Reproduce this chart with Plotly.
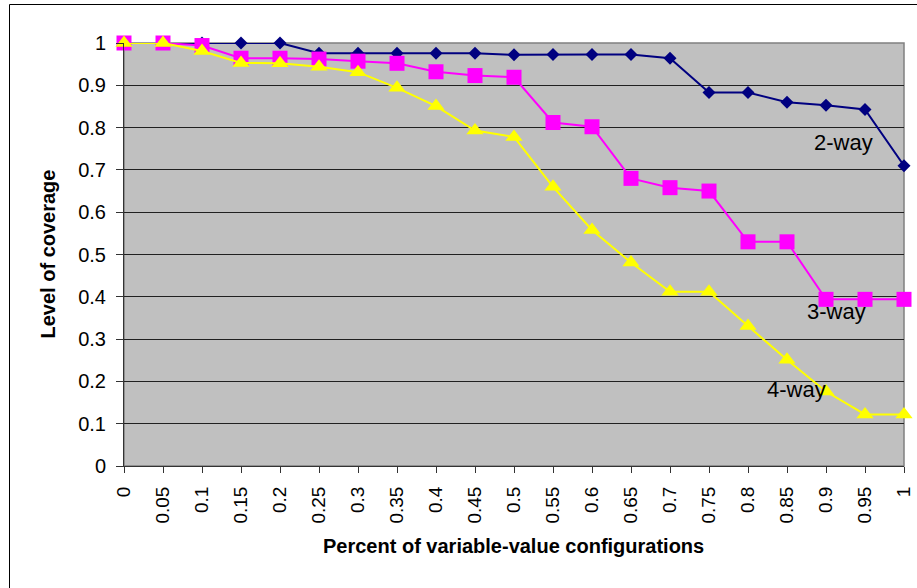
import plotly.graph_objects as go

x_vals = [0, 0.05, 0.1, 0.15, 0.2, 0.25, 0.3, 0.35, 0.4, 0.45, 0.5,
          0.55, 0.6, 0.65, 0.7, 0.75, 0.8, 0.85, 0.9, 0.95, 1]
x_labels = ["0", "0.05", "0.1", "0.15", "0.2", "0.25", "0.3", "0.35", "0.4", "0.45", "0.5",
            "0.55", "0.6", "0.65", "0.7", "0.75", "0.8", "0.85", "0.9", "0.95", "1"]
way2 = [1, 1, 1, 1, 1, 0.976, 0.976, 0.976, 0.976, 0.976, 0.972,
        0.973, 0.973, 0.973, 0.964, 0.883, 0.883, 0.860, 0.853, 0.843, 0.710]
way3 = [1, 1, 0.994, 0.964, 0.964, 0.962, 0.957, 0.952, 0.932, 0.923, 0.919,
        0.812, 0.802, 0.680, 0.658, 0.650, 0.530, 0.530, 0.394, 0.394, 0.394]
way4 = [1, 1, 0.981, 0.953, 0.952, 0.944, 0.931, 0.894, 0.851, 0.793, 0.778,
        0.660, 0.558, 0.481, 0.412, 0.412, 0.331, 0.251, 0.176, 0.122, 0.122]
y_ticks = [0, 0.1, 0.2, 0.3, 0.4, 0.5, 0.6, 0.7, 0.8, 0.9, 1]
y_labels = ["0", "0.1", "0.2", "0.3", "0.4", "0.5", "0.6", "0.7", "0.8", "0.9", "1"]
series_names = ["2-way", "3-way", "4-way"]

FONT = "Arial, Liberation Sans, sans-serif"

W, H = 917, 588
L, R, T, B = 124, 13, 43, 122
PW = W - L - R
PH = H - T - B

def px_to_paper_x(px):
    return (px - L) / PW

def px_to_paper_y(py):
    return (H - B - py) / PH

fig = go.Figure()
fig.add_trace(go.Scatter(x=x_vals, y=way2, mode="lines+markers", name=series_names[0],
                         line=dict(color="#000080", width=2),
                         marker=dict(symbol="diamond", size=10, color="#000080"),
                         cliponaxis=False))
fig.add_trace(go.Scatter(x=x_vals, y=way3, mode="lines+markers", name=series_names[1],
                         line=dict(color="#FF00FF", width=2),
                         marker=dict(symbol="square", size=15, color="#FF00FF"),
                         cliponaxis=False))
fig.add_trace(go.Scatter(x=x_vals, y=way4, mode="lines+markers", name=series_names[2],
                         line=dict(color="#FFFF00", width=2),
                         marker=dict(symbol="triangle-up", size=15, color="#FFFF00"),
                         cliponaxis=False))

fig.update_layout(
    width=W, height=H, autosize=False,
    margin=dict(l=L, r=R, t=T, b=B, autoexpand=False),
    paper_bgcolor="white", plot_bgcolor="#C0C0C0",
    showlegend=False,
    font=dict(family=FONT, size=19, color="black"),
    xaxis=dict(range=[0, 1], tickvals=x_vals, ticktext=x_labels, tickangle=-90,
               showgrid=False, zeroline=False, showline=True, linecolor="#333333",
               linewidth=1, ticks="outside", ticklen=6, tickcolor="#333333",
               automargin=False, ticklabelstandoff=6,
               tickfont=dict(family=FONT, size=19, color="black")),
    yaxis=dict(range=[0, 1], tickvals=y_ticks, ticktext=y_labels,
               showgrid=True, gridcolor="#202020", gridwidth=1, zeroline=False,
               showline=True, linecolor="#333333", linewidth=1,
               ticks="outside", ticklen=7, tickcolor="#333333",
               automargin=False, ticklabelstandoff=6,
               tickfont=dict(family=FONT, size=20, color="black")),
)

# plot area border (top/right gray)
fig.add_shape(type="rect", xref="paper", yref="paper", x0=0, x1=1, y0=0, y1=1,
              line=dict(color="#808080", width=1.5), layer="below")
# outer chart frame
fig.add_shape(type="rect", xref="paper", yref="paper",
              x0=px_to_paper_x(9.5), x1=px_to_paper_x(940),
              y0=px_to_paper_y(620), y1=px_to_paper_y(4.5),
              line=dict(color="black", width=1))

# axis titles
fig.add_annotation(text="<b>Level of coverage</b>", xref="paper", yref="paper",
                   x=px_to_paper_x(47), y=0.5, textangle=-90, showarrow=False,
                   xanchor="center", yanchor="middle",
                   font=dict(family=FONT, size=20, color="black"))
fig.add_annotation(text="<b>Percent of variable-value configurations</b>", xref="paper", yref="paper",
                   x=px_to_paper_x(513), y=px_to_paper_y(546), showarrow=False,
                   xanchor="center", yanchor="middle",
                   font=dict(family=FONT, size=20, color="black"))

# series labels
for name, lx, ly in [(series_names[0], 0.922, 0.764), (series_names[1], 0.914, 0.365), (series_names[2], 0.862, 0.180)]:
    fig.add_annotation(text=name, x=lx, y=ly, xref="x", yref="y", showarrow=False,
                       xanchor="center", yanchor="middle",
                       font=dict(family=FONT, size=22, color="black"))

fig.write_html("out.html", config={"displayModeBar": False},
               post_script="document.body.style.margin='0';document.body.style.overflow='hidden';")
